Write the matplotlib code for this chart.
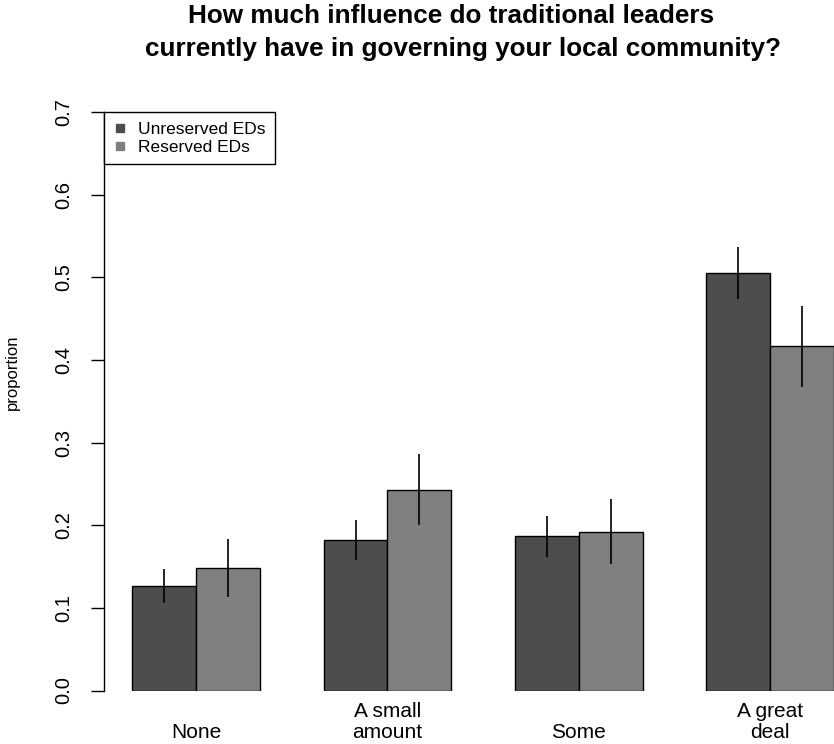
import matplotlib
matplotlib.use("Agg")
import matplotlib.pyplot as plt
from matplotlib.lines import Line2D
import numpy as np

plt.rcParams["font.family"] = ["Liberation Sans", "DejaVu Sans"]

categories = ["None", "A small\namount", "Some", "A great\ndeal"]
series_names = ["Unreserved EDs", "Reserved EDs"]

unreserved = [0.126, 0.182, 0.187, 0.506]
unreserved_lo = [0.106, 0.158, 0.162, 0.474]
unreserved_hi = [0.147, 0.206, 0.211, 0.537]

reserved = [0.148, 0.243, 0.192, 0.417]
reserved_lo = [0.113, 0.200, 0.153, 0.368]
reserved_hi = [0.184, 0.286, 0.232, 0.466]

y_ticks = [0.0, 0.1, 0.2, 0.3, 0.4, 0.5, 0.6, 0.7]

DARK = "#4d4d4d"
LIGHT = "#808080"

W, H = 834, 744
fig = plt.figure(figsize=(W / 100, H / 100), dpi=100)
# plot region runs past the right edge of the figure, as in the original device
ax = fig.add_axes([104 / W, (H - 690.5) / H, (862 - 104) / W, (690.5 - 112.3) / H])

# barplot(beside=TRUE, space=c(0, 1)) layout: each group starts 3 units after the last
group_start = 1 + 3 * np.arange(len(categories))
x_dark = group_start + 0.5
x_light = group_start + 1.5

ax.bar(x_dark, unreserved, width=1.0, color=DARK, edgecolor="black", linewidth=1.0)
ax.bar(x_light, reserved, width=1.0, color=LIGHT, edgecolor="black", linewidth=1.0)
ax.vlines(x_dark, unreserved_lo, unreserved_hi, color="black", linewidth=1.2)
ax.vlines(x_light, reserved_lo, reserved_hi, color="black", linewidth=1.2)

ax.set_xlim(0.556, 12.44)
ax.set_ylim(0, 0.7)

for side in ["top", "right", "bottom"]:
    ax.spines[side].set_visible(False)
ax.spines["left"].set_bounds(0, 0.7)
ax.spines["left"].set_linewidth(1.0)

ax.set_yticks(y_ticks)
ax.set_yticklabels([f"{t:.1f}" for t in y_ticks], rotation=90, va="center", fontsize=14.5)
ax.tick_params(axis="y", length=9.4, width=1.0, pad=13)

ax.set_xticks(group_start + 1.0)
ax.set_xticklabels(categories, va="bottom", fontsize=15, linespacing=1.15)
ax.tick_params(axis="x", length=0, pad=37)

handles = [
    Line2D([], [], marker="s", linestyle="", markersize=5.5, color=DARK),
    Line2D([], [], marker="s", linestyle="", markersize=5.5, color=LIGHT),
]
leg = ax.legend(handles, series_names, loc="upper left", bbox_to_anchor=(0, 1),
                borderaxespad=0, fancybox=False, framealpha=1, edgecolor="black",
                fontsize=12.5, handlelength=0.8, handletextpad=0.6, labelspacing=0.15,
                borderpad=0.55)
leg.get_frame().set_linewidth(1.0)

fig.text(451 / W, 1 - 23 / H, "How much influence do traditional leaders",
         ha="center", va="baseline", fontsize=18.8, fontweight="bold")
fig.text(463 / W, 1 - 56 / H, "currently have in governing your local community?",
         ha="center", va="baseline", fontsize=18.8, fontweight="bold")

fig.text(12 / W, 1 - 372 / H, "proportion", rotation=90, ha="center", va="center", fontsize=12)

fig.savefig("out.png", dpi=100)
